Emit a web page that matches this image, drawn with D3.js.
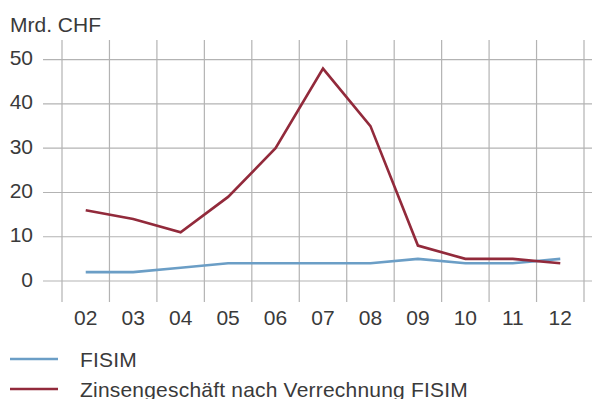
<!DOCTYPE html>
<html>
<head>
<meta charset="utf-8">
<script src="https://cdn.jsdelivr.net/npm/d3@7"></script>
<style>
  html, body { margin: 0; padding: 0; background: #fff; }
  svg { display: block; }
  text { font-family: "Liberation Sans", Arial, sans-serif; fill: #3a3a3a; }
</style>
</head>
<body>
<svg id="chart" width="592" height="399"></svg>
<script>
// Jahre (2002–2012)
const years = ["02", "03", "04", "05", "06", "07", "08", "09", "10", "11", "12"];
// FISIM, Mrd. CHF
const fisim = [2, 2, 3, 4, 4, 4, 4, 5, 4, 4, 5];
// Zinsengeschäft nach Verrechnung FISIM, Mrd. CHF
const zinsen = [16, 14, 11, 19, 30, 48, 35, 8, 5, 5, 4];
const yTicks = [0, 10, 20, 30, 40, 50];

const seriesNames = ["FISIM", "Zinsengeschäft nach Verrechnung FISIM"];
const seriesColors = ["#6b9ec6", "#922a3b"];

const svg = d3.select("#chart");
const gridColor = "#b3b3b3";

const x = d3.scaleBand().domain(years).range([62, 584]).padding(0);
const y = d3.scaleLinear().domain([0, 50]).range([281, 59.7]);

// horizontal grid
svg.append("g")
  .selectAll("line")
  .data(yTicks)
  .join("line")
  .attr("x1", 43).attr("x2", 592)
  .attr("y1", d => y(d)).attr("y2", d => y(d))
  .attr("stroke", gridColor).attr("stroke-width", 1.2);

// vertical grid at category boundaries
const bounds = years.map(d => x(d)).concat([x(years[years.length - 1]) + x.bandwidth()]);
svg.append("g")
  .selectAll("line")
  .data(bounds)
  .join("line")
  .attr("x1", d => d).attr("x2", d => d)
  .attr("y1", 40).attr("y2", 302)
  .attr("stroke", gridColor).attr("stroke-width", 1.2);

// y tick labels
svg.append("g")
  .selectAll("text")
  .data(yTicks)
  .join("text")
  .attr("x", 33)
  .attr("y", d => y(d) + 5.5)
  .attr("text-anchor", "end")
  .attr("font-size", 21)
  .text(d => d);

// unit label
svg.append("text")
  .attr("x", 10).attr("y", 31.5)
  .attr("font-size", 21)
  .text("Mrd. CHF");

// x tick labels
svg.append("g")
  .selectAll("text")
  .data(years)
  .join("text")
  .attr("x", d => x(d) + x.bandwidth() / 2)
  .attr("y", 325)
  .attr("text-anchor", "middle")
  .attr("font-size", 21)
  .text(d => d);

// lines
const line = d3.line()
  .x((d, i) => x(years[i]) + x.bandwidth() / 2)
  .y(d => y(d));

[fisim, zinsen].forEach((s, k) => {
  svg.append("path")
    .datum(s)
    .attr("d", line)
    .attr("fill", "none")
    .attr("stroke", seriesColors[k])
    .attr("stroke-width", 2.6)
    .attr("stroke-linejoin", "miter");
});

// legend
const legend = svg.append("g");
seriesNames.forEach((name, k) => {
  const ly = 359 + k * 30;
  legend.append("line")
    .attr("x1", 10).attr("x2", 58)
    .attr("y1", ly).attr("y2", ly)
    .attr("stroke", seriesColors[k]).attr("stroke-width", 2.6);
  legend.append("text")
    .attr("x", 80).attr("y", ly + 7.5)
    .attr("font-size", 21)
    .attr("letter-spacing", 0.2)
    .text(name);
});
</script>
</body>
</html>
